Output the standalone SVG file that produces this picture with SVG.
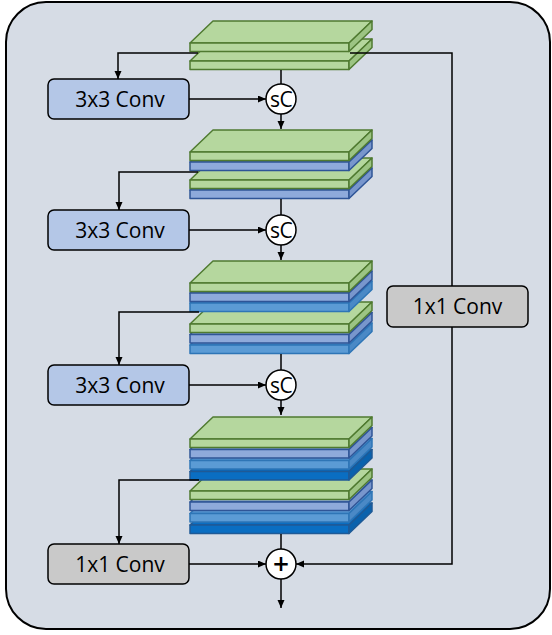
<svg xmlns="http://www.w3.org/2000/svg" xmlns:xlink="http://www.w3.org/1999/xlink" width="552" height="635" viewBox="0 0 552 635">
<style>
.frame{fill:#d6dce5;stroke:#000;stroke-width:2}
.conv3{fill:#b4c7e7;stroke:#000;stroke-width:1.5}
.conv1{fill:#c9c9c9;stroke:#000;stroke-width:1.5}
.lbl{font-family:"Open Sans","Liberation Sans",sans-serif;font-size:21px;fill:#000;text-anchor:middle}
.op{fill:#fff;stroke:#000;stroke-width:1.5}
.opt{font-family:"Open Sans","Liberation Sans",sans-serif;font-size:21px;fill:#000;text-anchor:middle;letter-spacing:-0.5px}
.plus{font-family:"Open Sans","Liberation Sans",sans-serif;font-size:28px;font-weight:600;fill:#000;text-anchor:middle}
.wire{fill:none;stroke:#000;stroke-width:1.5}
.g-f{fill:#b5d79e;stroke:#4f7a30;stroke-width:1.5;stroke-linejoin:round}
.g-s{fill:#9cc483;stroke:#4f7a30;stroke-width:1.5;stroke-linejoin:round}
.b-f{fill:#8eaadb;stroke:#2f5597;stroke-width:1.5;stroke-linejoin:round}
.b-s{fill:#7896cc;stroke:#2f5597;stroke-width:1.5;stroke-linejoin:round}
.l-f{fill:#5b9bd5;stroke:#2e75b6;stroke-width:1.5;stroke-linejoin:round}
.l-s{fill:#4a89c6;stroke:#2e75b6;stroke-width:1.5;stroke-linejoin:round}
.d-f{fill:#0a6ec2;stroke:#1f5a96;stroke-width:1.5;stroke-linejoin:round}
.d-s{fill:#0a62ad;stroke:#1f5a96;stroke-width:1.5;stroke-linejoin:round}
</style>
<defs>
<marker id="ah" markerWidth="8" markerHeight="8" refX="8" refY="3.5" orient="auto" markerUnits="userSpaceOnUse">
<path d="M0,0 L8,3.5 L0,7 z" fill="#000"/>
</marker>
<g id="pg">
<polygon class="g-f" points="0,0 23,-22 182,-22 159,0"/>
<rect class="g-f" x="0" y="0" width="159" height="8.5"/>
<polygon class="g-s" points="159,0 182,-22 182,-13.5 159,8.5"/>
</g>
<g id="pb">
<polygon class="b-f" points="0,0 23,-22 182,-22 159,0"/>
<rect class="b-f" x="0" y="0" width="159" height="8.5"/>
<polygon class="b-s" points="159,0 182,-22 182,-13.5 159,8.5"/>
</g>
<g id="pl">
<polygon class="l-f" points="0,0 23,-22 182,-22 159,0"/>
<rect class="l-f" x="0" y="0" width="159" height="8.5"/>
<polygon class="l-s" points="159,0 182,-22 182,-13.5 159,8.5"/>
</g>
<g id="pd">
<polygon class="d-f" points="0,0 23,-22 182,-22 159,0"/>
<rect class="d-f" x="0" y="0" width="159" height="8.5"/>
<polygon class="d-s" points="159,0 182,-22 182,-13.5 159,8.5"/>
</g>
</defs>

<rect class="frame" x="6" y="2" width="544" height="627" rx="40" ry="40"/>

<g id="features-1">
<use xlink:href="#pg" href="#pg" x="190" y="61"/>
<use xlink:href="#pg" href="#pg" x="190" y="43"/>
</g>
<g id="features-2">
<use href="#pb" xlink:href="#pb" x="190" y="190"/>
<use href="#pg" xlink:href="#pg" x="190" y="180"/>
<use href="#pb" xlink:href="#pb" x="190" y="162"/>
<use href="#pg" xlink:href="#pg" x="190" y="152"/>
</g>
<g id="features-3">
<use href="#pl" xlink:href="#pl" x="190" y="345"/>
<use href="#pb" xlink:href="#pb" x="190" y="334.5"/>
<use href="#pg" xlink:href="#pg" x="190" y="324"/>
<use href="#pl" xlink:href="#pl" x="190" y="303"/>
<use href="#pb" xlink:href="#pb" x="190" y="293"/>
<use href="#pg" xlink:href="#pg" x="190" y="283"/>
</g>
<g id="features-4">
<use href="#pd" xlink:href="#pd" x="190" y="525"/>
<use href="#pl" xlink:href="#pl" x="190" y="513.5"/>
<use href="#pb" xlink:href="#pb" x="190" y="502"/>
<use href="#pg" xlink:href="#pg" x="190" y="491"/>
<use href="#pd" xlink:href="#pd" x="190" y="471.5"/>
<use href="#pl" xlink:href="#pl" x="190" y="460.5"/>
<use href="#pb" xlink:href="#pb" x="190" y="449.5"/>
<use href="#pg" xlink:href="#pg" x="190" y="439"/>
</g>

<g id="conv3-1">
<rect class="conv3" x="48" y="79" width="141" height="40" rx="6"/>
<text class="lbl" x="120" y="106.5">3x3 Conv</text>
</g>
<g id="conv3-2">
<rect class="conv3" x="48" y="210" width="141" height="40" rx="6"/>
<text class="lbl" x="120" y="237.5">3x3 Conv</text>
</g>
<g id="conv3-3">
<rect class="conv3" x="48" y="365" width="141" height="40" rx="6"/>
<text class="lbl" x="120" y="392.5">3x3 Conv</text>
</g>
<g id="conv1-out">
<rect class="conv1" x="48" y="544" width="141" height="40" rx="6"/>
<text class="lbl" x="120" y="571.5">1x1 Conv</text>
</g>
<g id="conv1-skip">
<rect class="conv1" x="387" y="286" width="141" height="41" rx="6"/>
<text class="lbl" x="457.5" y="314">1x1 Conv</text>
</g>

<g id="sc-1">
<circle class="op" cx="281" cy="99" r="15"/>
<text class="opt" x="281" y="106.5">sC</text>
</g>
<g id="sc-2">
<circle class="op" cx="281" cy="230" r="15"/>
<text class="opt" x="281" y="237.5">sC</text>
</g>
<g id="sc-3">
<circle class="op" cx="281" cy="385" r="15"/>
<text class="opt" x="281" y="392.5">sC</text>
</g>
<g id="add">
<circle class="op" cx="281" cy="564" r="15"/>
<text class="plus" x="281" y="573.5">+</text>
</g>

<g id="connectors">
<path class="wire" d="M198,53 H118 V79" marker-end="url(#ah)"/>
<path class="wire" d="M350,53 H452 V286"/>
<path class="wire" d="M452,327 V564 H296" marker-end="url(#ah)"/>
<path class="wire" d="M189,99 H266" marker-end="url(#ah)"/>
<path class="wire" d="M281,70 V84"/>
<path class="wire" d="M281,114 V129" marker-end="url(#ah)"/>

<path class="wire" d="M198,172 H119 V210" marker-end="url(#ah)"/>
<path class="wire" d="M189,230 H266" marker-end="url(#ah)"/>
<path class="wire" d="M281,199 V215"/>
<path class="wire" d="M281,245 V260" marker-end="url(#ah)"/>

<path class="wire" d="M199,312 H119 V365" marker-end="url(#ah)"/>
<path class="wire" d="M189,385 H266" marker-end="url(#ah)"/>
<path class="wire" d="M281,354 V370"/>
<path class="wire" d="M281,400 V415" marker-end="url(#ah)"/>

<path class="wire" d="M199,480 H119 V544" marker-end="url(#ah)"/>
<path class="wire" d="M189,564 H266" marker-end="url(#ah)"/>
<path class="wire" d="M281,534 V549"/>
<path class="wire" d="M281,579 V608" marker-end="url(#ah)"/>
</g>
</svg>
